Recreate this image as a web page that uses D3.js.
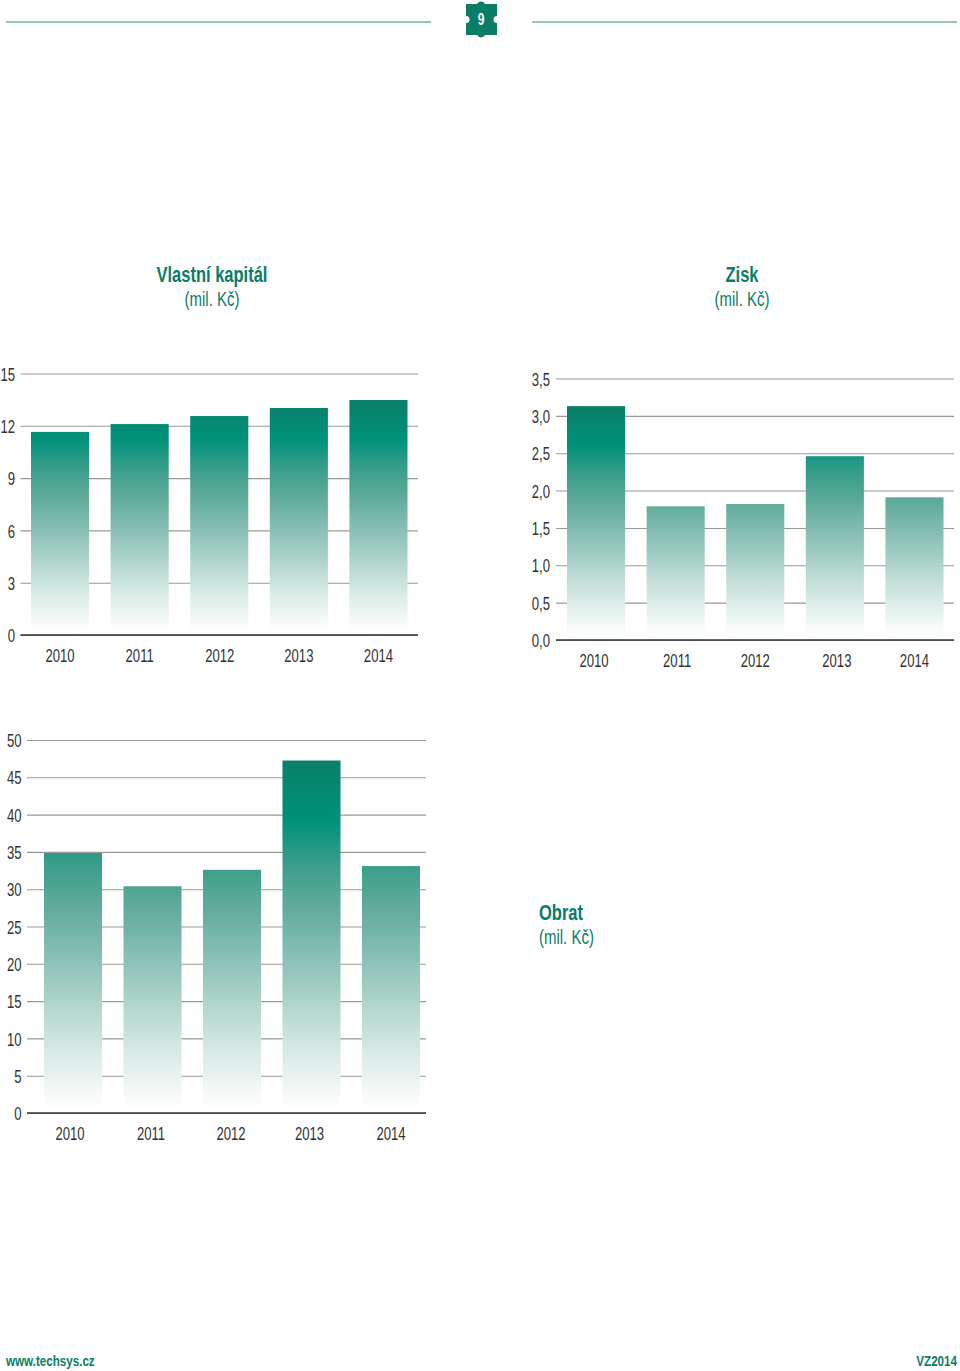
<!DOCTYPE html>
<html>
<head>
<meta charset="utf-8">
<style>
  html, body { margin: 0; padding: 0; background: #fff; }
  svg { display: block; }
  text { font-family: "Liberation Sans", sans-serif; }
  .tick text { fill: #333; font-size: 17.5px; }
  .grid .domain { display: none; }
  .grid .tick line { stroke: #999; stroke-width: 1.1; }
  .years .domain { stroke: #333; stroke-width: 1.5; }
  .years .tick line { display: none; }
  .title { fill: #0b7d67; font-size: 22px; font-weight: bold; }
  .unit { fill: #0b7d67; font-size: 20px; }
</style>
</head>
<body>
<svg id="page" width="960" height="1371"></svg>
<script src="https://cdn.jsdelivr.net/npm/d3@7"></script>
<script>
var years = ['2010', '2011', '2012', '2013', '2014'];

var kapitalValues = [11.65, 12.1, 12.56, 13.02, 13.48];
var kapitalTicks = [0, 3, 6, 9, 12, 15];

var ziskValues = [3.13, 1.79, 1.82, 2.46, 1.91];
var ziskTicks = [0, 0.5, 1, 1.5, 2, 2.5, 3, 3.5];

var obratValues = [34.85, 30.4, 32.6, 47.25, 33.1];
var obratTicks = [0, 5, 10, 15, 20, 25, 30, 35, 40, 45, 50];

var fadeStops = [
  [0, '#0a7f68'], [0.17, '#00917a'], [0.3, '#3a9e8a'], [0.42, '#60ab9a'],
  [0.65, '#a2cdc3'], [0.85, '#dcece8'], [1, '#ffffff']
];

var svg = d3.select('#page');
var defs = svg.append('defs');

function drawChart(opts) {
  var x = d3.scaleBand()
    .domain(years)
    .range([opts.barLeft, opts.barRight])
    .paddingInner(0.27);
  var y = d3.scaleLinear()
    .domain([0, opts.max])
    .range([opts.bottom, opts.top]);

  // one gradient per chart, running from the tallest bar down to the axis,
  // so the shorter bars start out paler
  var grad = defs.append('linearGradient')
    .attr('id', opts.id)
    .attr('gradientUnits', 'userSpaceOnUse')
    .attr('x1', 0).attr('x2', 0)
    .attr('y1', y(d3.max(opts.values)))
    .attr('y2', y(0) - 4);
  fadeStops.forEach(function(s) {
    grad.append('stop').attr('offset', s[0]).attr('stop-color', s[1]);
  });

  var grid = svg.append('g')
    .attr('class', 'grid')
    .attr('transform', 'translate(' + opts.left + ',0)')
    .call(d3.axisLeft(y)
      .tickValues(opts.ticks)
      .tickSize(-(opts.right - opts.left))
      .tickPadding(opts.tickPad)
      .tickFormat(opts.format));
  grid.selectAll('text').attr('y', 1);

  svg.append('g')
    .selectAll('rect')
    .data(opts.values)
    .enter().append('rect')
    .attr('x', function(d, i) { return x(years[i]); })
    .attr('y', function(d) { return y(d); })
    .attr('width', x.bandwidth())
    .attr('height', function(d) { return y(0) - y(d) - 4; })
    .attr('fill', 'url(#' + opts.id + ')');

  var axis = svg.append('g')
    .attr('class', 'years')
    .attr('transform', 'translate(0,' + opts.bottom + ')')
    .call(d3.axisBottom(x).tickSizeOuter(0).tickSize(0).tickPadding(15));
  // the baseline runs the full width of the grid, not only under the bars
  axis.select('.domain')
    .attr('d', d3.line()([[opts.left, 0], [opts.right, 0]]));
  axis.selectAll('.tick text')
    .attr('x', function(d, i) { return opts.nudge[i]; });
}

drawChart({
  id: 'fadeKapital',
  values: kapitalValues, ticks: kapitalTicks, max: 15, tickPad: 5.5,
  left: 20.5, right: 418, barLeft: 31, barRight: 407.5, top: 373.5, bottom: 635,
  nudge: [0, 0, 0.5, 0, 0],
  format: d3.format('d')
});

drawChart({
  id: 'fadeZisk',
  values: ziskValues, ticks: ziskTicks, max: 3.5, tickPad: 6,
  left: 556, right: 954, barLeft: 567, barRight: 943.5, top: 378.5, bottom: 640,
  nudge: [-2, 1.5, 0, 2, 0],
  format: function(d) { return d3.format('.1f')(d).replace('.', ','); }
});

drawChart({
  id: 'fadeObrat',
  values: obratValues, ticks: obratTicks, max: 50, tickPad: 5.5,
  left: 27, right: 426, barLeft: 44, barRight: 420, top: 740, bottom: 1113,
  nudge: [-3, -1.5, -1, -2, 0],
  format: d3.format('d')
});

function heading(name, cx, baseline, anchor) {
  svg.append('text').attr('class', 'title')
    .attr('x', cx).attr('y', baseline)
    .attr('text-anchor', anchor).text(name);
  svg.append('text').attr('class', 'unit')
    .attr('x', cx).attr('y', baseline + 24)
    .attr('text-anchor', anchor).text('(mil. Kč)');
}
heading('Vlastní kapitál', 212, 282, 'middle');
heading('Zisk', 742, 282, 'middle');
heading('Obrat', 539, 920, 'start');

// page header: two rules and the puzzle piece with the page number
svg.append('line').attr('x1', 6).attr('x2', 431).attr('y1', 22).attr('y2', 22)
  .attr('stroke', '#2f8b79').attr('stroke-width', 1);
svg.append('line').attr('x1', 532).attr('x2', 957).attr('y1', 22).attr('y2', 22)
  .attr('stroke', '#2f8b79').attr('stroke-width', 1);
svg.append('path')
  .attr('fill', '#0b7d67')
  .attr('d', 'M466,4 H477 A4.5,4.5 0 0 1 485,4 H497 V16 A3.5,3.5 0 0 0 497,23 V35 H485 A4.5,4.5 0 0 1 477,35 H466 V23 A3.5,3.5 0 0 0 466,16 Z');
svg.append('text')
  .attr('x', 481).attr('y', 25)
  .attr('text-anchor', 'middle')
  .attr('fill', '#fff')
  .attr('font-size', 16)
  .attr('font-weight', 'bold')
  .text('9');

// footer
svg.append('text')
  .attr('x', 6).attr('y', 1366)
  .attr('fill', '#0b7d67').attr('font-size', 15.5).attr('font-weight', 'bold')
  .text('www.techsys.cz');
svg.append('text')
  .attr('x', 957).attr('y', 1366)
  .attr('text-anchor', 'end')
  .attr('fill', '#0b7d67').attr('font-size', 15.5).attr('font-weight', 'bold')
  .text('VZ2014');

// no condensed face is installed, so squeeze every text around its own x
svg.selectAll('text').each(function() {
  var px = +this.getAttribute('x') || 0;
  this.setAttribute('transform', 'translate(' + px + ',0) scale(0.75,1) translate(' + (-px) + ',0)');
});
</script>
</body>
</html>
